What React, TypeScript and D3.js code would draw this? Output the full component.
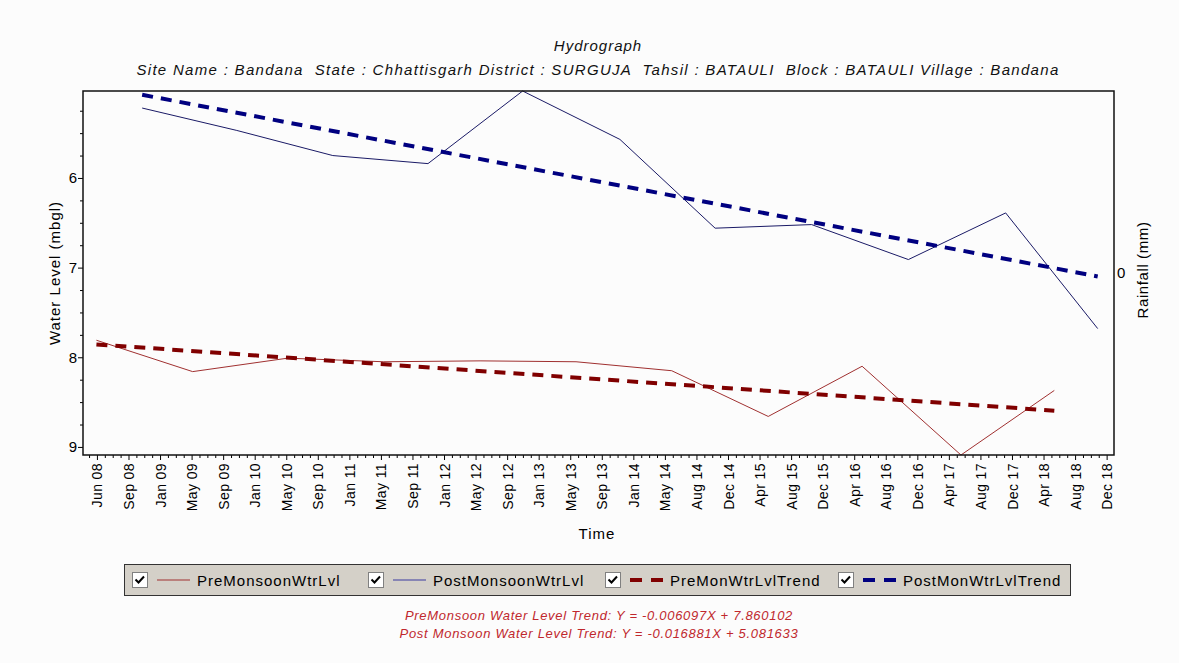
import { useEffect, useRef } from "react";
import * as d3 from "d3";

const preMonsoonDates = [
  "2008-05-30", "2009-05-31", "2010-05-27", "2011-05-28", "2012-05-28", "2013-05-28",
  "2014-05-27", "2015-05-29", "2016-05-20", "2017-05-31", "2018-05-21",
];
const preMonsoonLevels = [7.81, 8.16, 8.01, 8.05, 8.04, 8.05, 8.15, 8.66, 8.1, 9.09, 8.37];

const postMonsoonDates = [
  "2008-11-20", "2009-11-15", "2010-11-15", "2011-11-12", "2012-11-06", "2013-11-11",
  "2014-11-08", "2015-11-10", "2016-11-12", "2017-11-17", "2018-11-02",
];
const postMonsoonLevels = [5.22, 5.47, 5.75, 5.84, 5.03, 5.57, 6.56, 6.52, 6.91, 6.39, 7.68];

const xTickLabels = [
  "Jun 08", "Sep 08", "Jan 09", "May 09", "Sep 09", "Jan 10", "May 10", "Sep 10",
  "Jan 11", "May 11", "Sep 11", "Jan 12", "May 12", "Sep 12", "Jan 13", "May 13",
  "Sep 13", "Jan 14", "May 14", "Aug 14", "Dec 14", "Apr 15", "Aug 15", "Dec 15",
  "Apr 16", "Aug 16", "Dec 16", "Apr 17", "Aug 17", "Dec 17", "Apr 18", "Aug 18", "Dec 18",
];
const X_TICK_START = "2008-06-01";
const X_TICK_STEP_DAYS = 120;
const X_DOMAIN = ["2008-04-09", "2019-01-03"];

const yTickValues = [6, 7, 8, 9];
const rainfallTickValues = [0];

const legendNames = ["PreMonsoonWtrLvl", "PostMonsoonWtrLvl", "PreMonWtrLvlTrend", "PostMonWtrLvlTrend"];
const trendTexts = [
  "PreMonsoon Water Level Trend: Y = -0.006097X + 7.860102",
  "Post Monsoon Water Level Trend: Y = -0.016881X + 5.081633",
];

const TITLE = "Hydrograph";
const SUBTITLE =
  "Site Name : Bandana  State : Chhattisgarh District : SURGUJA  Tahsil : BATAULI  Block : BATAULI Village : Bandana";

// ---- layout ----
const W = 1179;
const H = 663;
const PLOT = { left: 83, top: 91, right: 1114, bottom: 455 };
const FONT = "'Liberation Sans', Arial, sans-serif";
const COLORS = {
  pre: "#a03030",
  post: "#1a1a66",
  preTrend: "#800000",
  postTrend: "#000080",
  eq: "#c0282d",
};

interface Pt {
  date: Date;
  value: number;
}

const parse = d3.timeParse("%Y-%m-%d");
const MONTH_MS = 30.4375 * 24 * 3600 * 1000;

function toPoints(dates: string[], values: number[]): Pt[] {
  return dates.map((d, i) => ({ date: parse(d) as Date, value: values[i] }));
}

// least squares fit with X in months since the first reading
function trendEnds(points: Pt[]): Pt[] {
  const t0 = points[0].date.getTime();
  const xs = points.map((p) => (p.date.getTime() - t0) / MONTH_MS);
  const ys = points.map((p) => p.value);
  const mx = d3.mean(xs) ?? 0;
  const my = d3.mean(ys) ?? 0;
  let sxy = 0;
  let sxx = 0;
  xs.forEach((xv, i) => {
    sxy += (xv - mx) * (ys[i] - my);
    sxx += (xv - mx) * (xv - mx);
  });
  const slope = sxy / sxx;
  const icpt = my - slope * mx;
  const last = points[points.length - 1];
  return [
    { date: points[0].date, value: icpt },
    { date: last.date, value: icpt + slope * xs[xs.length - 1] },
  ];
}

export default function App() {
  const svgRef = useRef<SVGSVGElement>(null);

  useEffect(() => {
    if (!svgRef.current) return;
    const svg = d3.select(svgRef.current);
    svg.selectAll("*").remove();

    svg.append("rect").attr("width", W).attr("height", H).attr("fill", "#fcfcfc");

    const pre = toPoints(preMonsoonDates, preMonsoonLevels);
    const post = toPoints(postMonsoonDates, postMonsoonLevels);

    const x = d3
      .scaleTime()
      .domain(X_DOMAIN.map((d) => parse(d) as Date))
      .range([PLOT.left, PLOT.right]);

    const allVals = [...preMonsoonLevels, ...postMonsoonLevels];
    const y = d3
      .scaleLinear()
      .domain(d3.extent(allVals) as [number, number])
      .range([PLOT.top, PLOT.bottom]);

    const rain = d3.scaleLinear().domain([-1, 1]).range([PLOT.bottom, PLOT.top]);

    // Titles
    svg
      .append("text")
      .attr("x", 598)
      .attr("y", 51)
      .attr("text-anchor", "middle")
      .attr("font-family", FONT)
      .attr("font-style", "italic")
      .attr("font-size", "15px")
      .attr("letter-spacing", "1px")
      .attr("fill", "#111")
      .text(TITLE);
    svg
      .append("text")
      .attr("x", 598)
      .attr("y", 75)
      .attr("text-anchor", "middle")
      .attr("font-family", FONT)
      .attr("font-style", "italic")
      .attr("font-size", "15px")
      .attr("letter-spacing", "1.3px")
      .attr("fill", "#111")
      .style("white-space", "pre")
      .text(SUBTITLE);

    // X axis: major + minor ticks
    const tickStart = parse(X_TICK_START) as Date;
    const majorTicks = xTickLabels.map((_, i) => d3.timeDay.offset(tickStart, i * X_TICK_STEP_DAYS));
    const [d0, d1] = x.domain();
    const minorTicks = d3
      .range(-4, xTickLabels.length * 4)
      .filter((i) => i % 4 !== 0)
      .map((i) => d3.timeDay.offset(tickStart, (i * X_TICK_STEP_DAYS) / 4))
      .filter((d) => d >= d0 && d <= d1);

    const styleAxis = (sel: d3.Selection<SVGGElement, unknown, null, undefined>) => {
      sel.select(".domain").remove();
      sel.selectAll(".tick line").attr("stroke", "#000");
      sel
        .selectAll(".tick text")
        .attr("fill", "#000")
        .attr("font-family", FONT);
    };

    svg
      .append("g")
      .attr("transform", `translate(0,${PLOT.bottom})`)
      .call(d3.axisBottom(x).tickValues(minorTicks).tickSize(3).tickFormat(() => ""))
      .call(styleAxis);

    svg
      .append("g")
      .attr("transform", `translate(0,${PLOT.bottom})`)
      .call(
        d3
          .axisBottom(x)
          .tickValues(majorTicks)
          .tickSize(5)
          .tickFormat((_, i) => xTickLabels[i])
      )
      .call(styleAxis)
      .call((sel) =>
        sel
          .selectAll(".tick text")
          .attr("font-size", "14px")
          .attr("letter-spacing", "0.4px")
          .attr("transform", "rotate(-90)")
          .attr("text-anchor", "end")
          .attr("x", -8)
          .attr("y", 0)
          .attr("dy", "0.36em")
      );

    // Y axis: major + minor
    const [v0, v1] = y.domain();
    const yMinor = d3
      .range(Math.ceil(v0 * 4), Math.floor(v1 * 4) + 1)
      .map((k) => k / 4)
      .filter((v) => v % 1 !== 0);

    svg
      .append("g")
      .attr("transform", `translate(${PLOT.left},0)`)
      .call(d3.axisLeft(y).tickValues(yMinor).tickSize(3).tickFormat(() => ""))
      .call(styleAxis);

    svg
      .append("g")
      .attr("transform", `translate(${PLOT.left},0)`)
      .call(d3.axisLeft(y).tickValues(yTickValues).tickSize(5).tickPadding(1).tickFormat(d3.format("d")))
      .call(styleAxis)
      .call((sel) => sel.selectAll(".tick text").attr("font-size", "15px"));

    // Right (rainfall) axis
    svg
      .append("g")
      .attr("transform", `translate(${PLOT.right},0)`)
      .call(
        d3
          .axisRight(rain)
          .tickValues(rainfallTickValues)
          .tickSize(0)
          .tickPadding(3)
          .tickFormat(d3.format("d"))
      )
      .call(styleAxis)
      .call((sel) => sel.selectAll(".tick text").attr("font-size", "15px"));

    // Axis titles
    svg
      .append("text")
      .attr("transform", `translate(60,273) rotate(-90)`)
      .attr("text-anchor", "middle")
      .attr("font-family", FONT)
      .attr("font-size", "15px")
      .attr("letter-spacing", "1px")
      .attr("fill", "#000")
      .text("Water Level (mbgl)");
    svg
      .append("text")
      .attr("transform", `translate(1148,270) rotate(-90)`)
      .attr("text-anchor", "middle")
      .attr("font-family", FONT)
      .attr("font-size", "15px")
      .attr("letter-spacing", "0.6px")
      .attr("fill", "#000")
      .text("Rainfall (mm)");
    svg
      .append("text")
      .attr("x", 597)
      .attr("y", 539)
      .attr("text-anchor", "middle")
      .attr("font-family", FONT)
      .attr("font-size", "15px")
      .attr("letter-spacing", "1px")
      .attr("fill", "#000")
      .text("Time");

    // Lines
    const line = d3
      .line<Pt>()
      .x((d) => x(d.date))
      .y((d) => y(d.value));

    const plotG = svg.append("g");

    plotG
      .append("path")
      .datum(pre)
      .attr("d", line)
      .attr("fill", "none")
      .attr("stroke", COLORS.pre)
      .attr("stroke-width", 1);
    plotG
      .append("path")
      .datum(post)
      .attr("d", line)
      .attr("fill", "none")
      .attr("stroke", COLORS.post)
      .attr("stroke-width", 1);
    plotG
      .append("path")
      .datum(trendEnds(pre))
      .attr("d", line)
      .attr("fill", "none")
      .attr("stroke", COLORS.preTrend)
      .attr("stroke-width", 4)
      .attr("stroke-dasharray", "11,8");
    plotG
      .append("path")
      .datum(trendEnds(post))
      .attr("d", line)
      .attr("fill", "none")
      .attr("stroke", COLORS.postTrend)
      .attr("stroke-width", 4)
      .attr("stroke-dasharray", "11,8");

    // Frame
    svg
      .append("rect")
      .attr("x", PLOT.left)
      .attr("y", PLOT.top)
      .attr("width", PLOT.right - PLOT.left)
      .attr("height", PLOT.bottom - PLOT.top)
      .attr("fill", "none")
      .attr("stroke", "#111")
      .attr("stroke-width", 1.5);

    // Legend
    const legend = svg.append("g");
    legend
      .append("rect")
      .attr("x", 124.5)
      .attr("y", 564.5)
      .attr("width", 946)
      .attr("height", 31)
      .attr("fill", "#d4d0c8")
      .attr("stroke", "#333")
      .attr("stroke-width", 1);

    const itemX = [132, 368, 605, 838];
    const itemColors = [COLORS.pre, "#3a3aa0", COLORS.preTrend, COLORS.postTrend];
    legendNames.forEach((name, i) => {
      const gx = itemX[i];
      const item = legend.append("g").attr("transform", `translate(${gx},572)`);
      item
        .append("rect")
        .attr("x", 0.5)
        .attr("y", 0.5)
        .attr("width", 15)
        .attr("height", 15)
        .attr("fill", "#fff")
        .attr("stroke", "#808080");
      item
        .append("path")
        .attr("d", "M3.5,7.5 L6.5,10.5 L12,4.5")
        .attr("fill", "none")
        .attr("stroke", "#000")
        .attr("stroke-width", 2);
      const dashed = i >= 2;
      item
        .append("line")
        .attr("x1", 25)
        .attr("x2", 58)
        .attr("y1", 8)
        .attr("y2", 8)
        .attr("stroke", itemColors[i])
        .attr("stroke-width", dashed ? 4 : 1)
        .attr("stroke-dasharray", dashed ? "12,9" : null);
      item
        .append("text")
        .attr("x", 65)
        .attr("y", 13.5)
        .attr("font-family", FONT)
        .attr("font-size", "15px")
        .attr("letter-spacing", "1px")
        .attr("fill", "#000")
        .text(name);
    });

    // Trend equations
    trendTexts.forEach((t, i) => {
      svg
        .append("text")
        .attr("x", 599)
        .attr("y", 620 + i * 18)
        .attr("text-anchor", "middle")
        .attr("font-family", FONT)
        .attr("font-style", "italic")
        .attr("font-size", "13px")
        .attr("letter-spacing", "0.7px")
        .attr("fill", COLORS.eq)
        .text(t);
    });
  }, []);

  return (
    <svg
      ref={svgRef}
      width={W}
      height={H}
      style={{ position: "absolute", left: 0, top: 0, display: "block" }}
      role="img"
      aria-label="Hydrograph of pre- and post-monsoon water levels"
    />
  );
}
